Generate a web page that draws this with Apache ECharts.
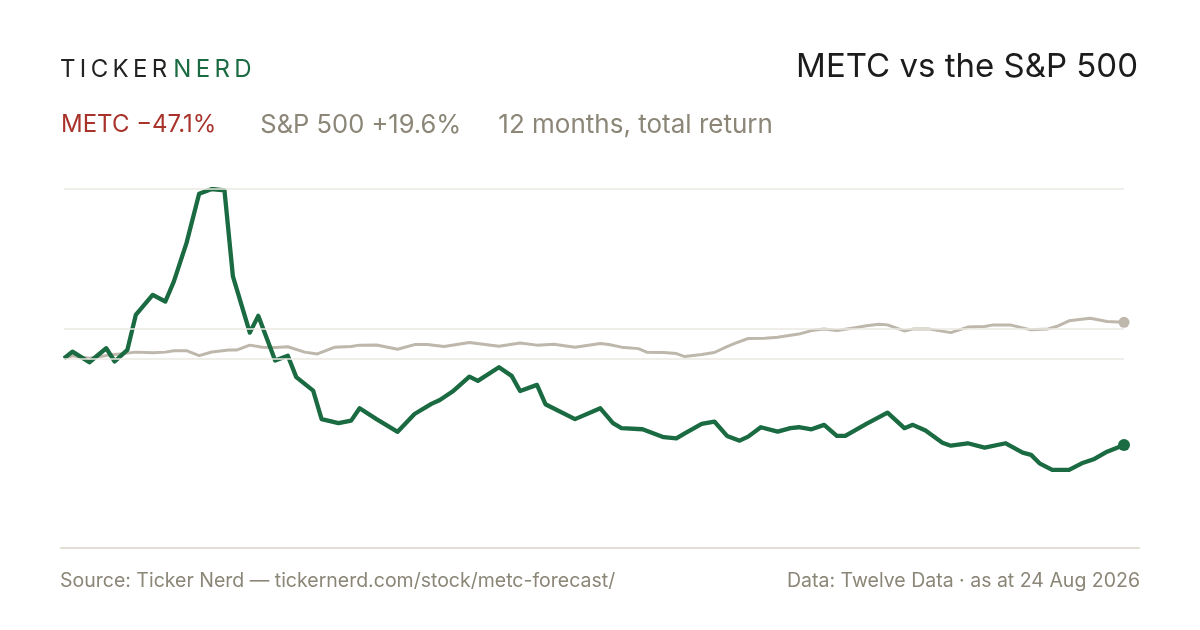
<!DOCTYPE html>
<html>
<head>
<meta charset="utf-8">
<title>METC vs the S&amp;P 500</title>
<script src="https://cdn.jsdelivr.net/npm/echarts@6/dist/echarts.min.js"></script>
<style>
  html, body { margin: 0; padding: 0; background: #ffffff; }
  #chart { width: 1200px; height: 630px; }
</style>
</head>
<body>
<div id="chart"></div>
<script>
// METC vs S&P 500, 12-month total return (%), indexed by trading day (0..251).
var metcDays = [0, 2, 6, 10, 12, 15, 17, 21, 24, 26, 29, 32, 35, 38, 40, 44, 46, 50, 53, 55, 59, 61,
  65, 68, 70, 74, 79, 83, 87, 89, 92, 96, 98, 103, 106, 108, 112, 114, 121, 127,
  130, 132, 137, 142, 145, 147, 151, 154, 157, 160, 162, 165, 169, 172, 174, 177, 180, 183, 185,
  190, 195, 199, 201, 204, 208, 210, 214, 218, 223, 227, 229, 231, 234, 238, 241, 244, 247, 251];
var metcPct = [0, 3.7, -2.1, 5.5, -1.7, 4.6, 23.6, 34.5, 30.9, 41.7, 62.6, 89.4, 92, 91.2, 44.5, 14, 23.1, -1.2, 1.4, -10.2, -17.5, -33,
  -35.2, -33.8, -27.1, -33, -39.9, -30.2, -24.7, -22.6, -18, -9.9, -12.2, -4.8, -9.5, -17.7, -14.4, -24.9, -33, -27.1,
  -35.2, -37.9, -38.5, -42.8, -43.4, -40.7, -35.6, -34.3, -42.1, -44.7, -42.5, -37.4, -39.8, -37.9, -37.4, -38.5, -36.1, -42.1, -42.1,
  -35.6, -29.5, -37.9, -36.1, -39.2, -45.8, -47.4, -46.1, -48.5, -46.1, -51.2, -52.4, -57, -60.6, -60.6, -57, -54.6, -50.7, -47.1];

var spxDays = [0, 2, 6, 11, 17, 21, 24, 26, 29, 32, 35, 39, 41, 44, 47, 50, 53, 57, 60, 64,
  68, 70, 74, 79, 83, 86, 90, 96, 103, 108, 112, 116, 121, 127, 129, 132, 136, 138, 142, 145,
  147, 151, 154, 157, 159, 162, 166, 169, 174, 177, 180, 183, 187, 190, 193, 195, 199, 201, 205,
  210, 214, 218, 220, 224, 229, 233, 235, 238, 243, 247, 251];
var spxPct = [0, 1.4, 0.1, 1.9, 3.4, 3.0, 3.4, 4.2, 4.2, 1.5, 3.5, 4.5, 4.6, 7.2, 6.1, 5.9, 6.3, 3.4, 2.4, 6.0,
  6.4, 7.2, 7.3, 5.0, 7.5, 7.5, 6.4, 8.6, 6.6, 8.3, 7.2, 7.7, 6.1, 8.1, 7.5, 6.1, 5.3, 3.4, 3.2, 2.6,
  1.0, 2.1, 3.2, 6.4, 8.3, 10.8, 11.0, 11.5, 13.2, 15.1, 15.9, 15.1, 16.5, 17.7, 18.6, 18.2, 14.9, 15.9, 15.9,
  14.0, 17.0, 17.3, 18.2, 18.2, 15.5, 16.0, 17.3, 20.4, 21.8, 20.0, 19.6];

// horizontal reference lines (return %)
var guideValues = [92, 16, 0];

var headline = { metc: "METC \u221247.1%", spx: "S&P 500 +19.6%", period: "12 months, total return" };

function pairs(xs, ys) { return xs.map(function (x, i) { return [x, ys[i]]; }); }
function last(xs, ys) { return [[xs[xs.length - 1], ys[ys.length - 1]]]; }
// spread letters for the wordmark (zrender has no letter-spacing)
function spaced(s) { return s.split("").join("\u2009"); }

var GREEN = "#1a6a42", GREY = "#bdb7ac", MUTED = "#8b8677";
var FONT = "Inter, 'Noto Sans', sans-serif";

var c = echarts.init(document.getElementById("chart"), null, { renderer: "canvas" });
c.setOption({
  animation: false,
  backgroundColor: "#ffffff",
  textStyle: { fontFamily: FONT },
  grid: { left: 64, right: 76, top: 189, bottom: 87.5 },
  xAxis: { type: "value", min: 0, max: 251, show: false },
  yAxis: { type: "value", min: -100, max: 92, show: false, splitLine: { show: false } },
  title: [
    { text: "METC vs the S&P 500", right: 62, top: 51, padding: 0,
      textStyle: { fontFamily: FONT, fontSize: 33, fontWeight: 400, color: "#1c1c1c" } },
    { text: "{a|" + spaced("TICKER") + "}{b|" + spaced("NERD") + "}", left: 60, top: 58, padding: 0,
      textStyle: { fontWeight: 400, rich: {
        a: { fontFamily: FONT, fontSize: 24, fontWeight: 400, color: "#222222", padding: [0, 6, 0, 0] },
        b: { fontFamily: FONT, fontSize: 24, fontWeight: 400, color: GREEN } } } },
    { text: "{r|" + headline.metc + "}{g|" + headline.spx + "}{h|" + headline.period + "}", left: 61, top: 112, padding: 0,
      textStyle: { fontWeight: 400, rich: {
        r: { fontFamily: FONT, fontSize: 24, fontWeight: 400, color: "#a8332b", padding: [0, 44, 0, 0] },
        g: { fontFamily: FONT, fontSize: 25.5, fontWeight: 400, color: MUTED, padding: [0, 37, 0, 0] },
        h: { fontFamily: FONT, fontSize: 26, fontWeight: 400, color: MUTED } } } },
    { text: "Source: Ticker Nerd \u2014 tickernerd.com/stock/metc-forecast/", left: 60, top: 571, padding: 0,
      textStyle: { fontFamily: FONT, fontSize: 19.5, fontWeight: 400, color: MUTED } },
    { text: "Data: Twelve Data \u00b7 as at 24 Aug 2026", right: 60, top: 571, padding: 0,
      textStyle: { fontFamily: FONT, fontSize: 19.5, fontWeight: 400, color: MUTED } }
  ],
  graphic: [
    { type: "line", shape: { x1: 60, y1: 548, x2: 1140, y2: 548 }, style: { stroke: "#e2dfd6", lineWidth: 2 }, silent: true }
  ],
  series: [
    { type: "line", data: [], z: 1, silent: true,
      markLine: { silent: true, symbol: "none", label: { show: false },
        lineStyle: { color: "#ebe8e1", width: 1.5, type: "solid" },
        data: guideValues.map(function (v) { return { yAxis: v }; }) } },
    { name: "S&P 500", type: "line", data: pairs(spxDays, spxPct), z: 2, showSymbol: false,
      lineStyle: { color: GREY, width: 3, join: "round" } },
    { name: "METC", type: "line", data: pairs(metcDays, metcPct), z: 3, showSymbol: false,
      lineStyle: { color: GREEN, width: 4.3, join: "round" } },
    { type: "scatter", data: last(spxDays, spxPct), symbolSize: 11, z: 4, itemStyle: { color: GREY, opacity: 1 } },
    { type: "scatter", data: last(metcDays, metcPct), symbolSize: 12, z: 5, itemStyle: { color: GREEN, opacity: 1 } }
  ]
});
</script>
</body>
</html>
